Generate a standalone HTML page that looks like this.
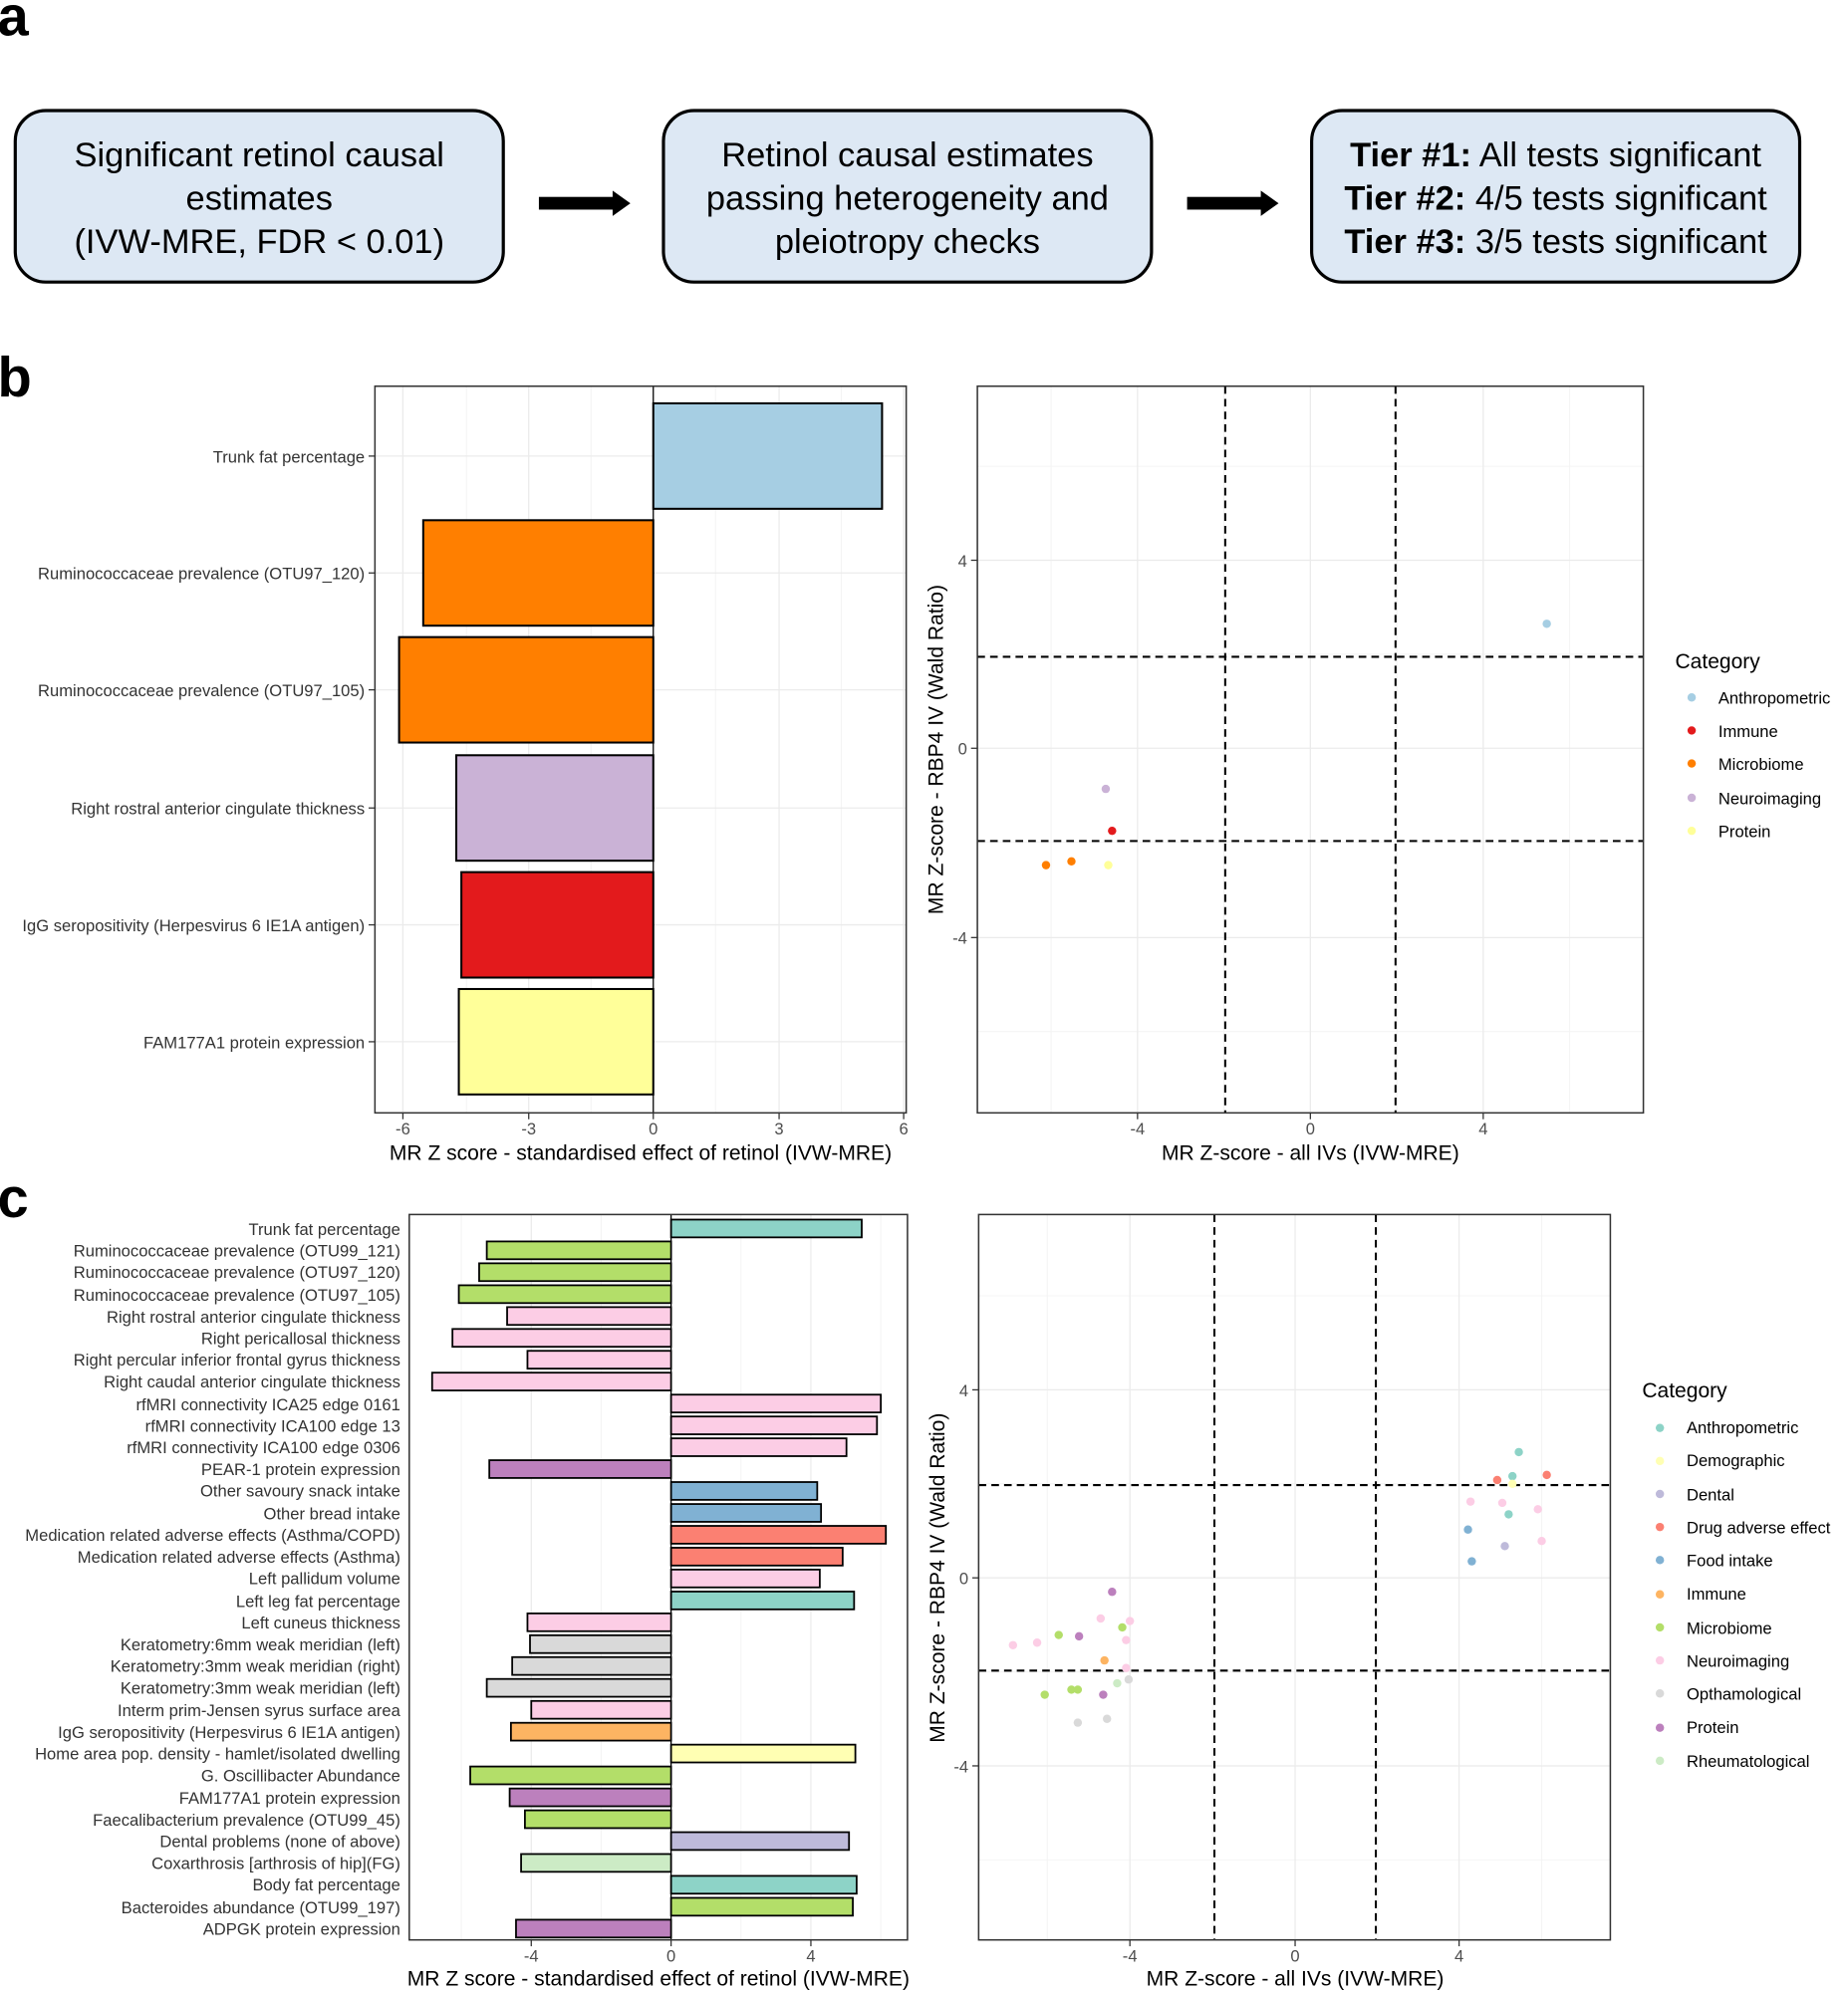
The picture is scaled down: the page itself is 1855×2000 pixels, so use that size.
<!DOCTYPE html>
<html><head><meta charset="utf-8"><style>
html,body{margin:0;padding:0;background:#fff;}
svg{display:block;}
text{font-family:"Liberation Sans",sans-serif;}
.tk{font-size:13px;fill:#4d4d4d;}
.lb{font-size:13px;fill:#333;}
.at{font-size:16.5px;fill:#000;}
.g{stroke:#ebebeb;stroke-width:1;}
.gm{stroke:#f4f4f4;stroke-width:0.8;}
.d{stroke:#000;stroke-width:1.6;stroke-dasharray:6,4;fill:none;}
.bx{fill:none;stroke:#333;stroke-width:1.2;}
.b{stroke:#000;stroke-width:1.6;}
.lg{font-size:13px;fill:#000;}
</style></head><body>
<svg width="1855" height="2000" viewBox="0 0 1454 1568" preserveAspectRatio="none" xmlns="http://www.w3.org/2000/svg">
<rect width="1454" height="1568" fill="#fff"/>
<text x="-2" y="28" font-size="44" font-weight="bold">a</text>
<text x="-2" y="312" font-size="44" font-weight="bold">b</text>
<text x="-2" y="958" font-size="44" font-weight="bold">c</text>

<g font-size="27" text-anchor="middle">
<rect x="12" y="87" width="384" height="135" rx="24" fill="#dde8f4" stroke="#000" stroke-width="2.5"/>
<text x="204" y="131">Significant retinol causal</text>
<text x="204" y="165">estimates</text>
<text x="204" y="199">(IVW-MRE, FDR &lt; 0.01)</text>
<rect x="522" y="87" width="384" height="135" rx="24" fill="#dde8f4" stroke="#000" stroke-width="2.5"/>
<text x="714" y="131">Retinol causal estimates</text>
<text x="714" y="165">passing heterogeneity and</text>
<text x="714" y="199">pleiotropy checks</text>
<rect x="1032" y="87" width="384" height="135" rx="24" fill="#dde8f4" stroke="#000" stroke-width="2.5"/>
<text x="1224" y="131"><tspan font-weight="bold">Tier #1:</tspan> All tests significant</text>
<text x="1224" y="165"><tspan font-weight="bold">Tier #2:</tspan> 4/5 tests significant</text>
<text x="1224" y="199"><tspan font-weight="bold">Tier #3:</tspan> 3/5 tests significant</text>
</g>
<rect x="424" y="155" width="60" height="10" fill="#000"/><polygon points="482,150 496,160 482,170" fill="#000"/>
<rect x="934" y="155" width="60" height="10" fill="#000"/><polygon points="992,150 1006,160 992,170" fill="#000"/>

<g>
<line class="gm" x1="367" y1="304" x2="367" y2="876"/><line class="gm" x1="465" y1="304" x2="465" y2="876"/>
<line class="gm" x1="563" y1="304" x2="563" y2="876"/><line class="gm" x1="662" y1="304" x2="662" y2="876"/>
<line class="g" x1="317" y1="304" x2="317" y2="876"/><line class="g" x1="416" y1="304" x2="416" y2="876"/>
<line class="g" x1="613" y1="304" x2="613" y2="876"/><line class="g" x1="711" y1="304" x2="711" y2="876"/>
<line class="g" x1="295" y1="359" x2="713" y2="359"/><line class="g" x1="295" y1="451" x2="713" y2="451"/>
<line class="g" x1="295" y1="543" x2="713" y2="543"/><line class="g" x1="295" y1="636" x2="713" y2="636"/>
<line class="g" x1="295" y1="728" x2="713" y2="728"/><line class="g" x1="295" y1="820" x2="713" y2="820"/>
<rect class="b" x="514" y="317.5" width="180" height="83" fill="#a6cee3"/>
<rect class="b" x="333" y="409.5" width="181" height="83" fill="#ff7f00"/>
<rect class="b" x="314" y="501.5" width="200" height="83" fill="#ff7f00"/>
<rect class="b" x="359" y="594.5" width="155" height="83" fill="#cab2d6"/>
<rect class="b" x="363" y="686.5" width="151" height="83" fill="#e31a1c"/>
<rect class="b" x="361" y="778.5" width="153" height="83" fill="#ffff99"/>
<line x1="514" y1="304" x2="514" y2="876" stroke="#000" stroke-width="1"/>
<rect class="bx" x="295" y="304" width="418" height="572"/>
<g class="lb" text-anchor="end">
<text x="287" y="364">Trunk fat percentage</text>
<text x="287" y="456">Ruminococcaceae prevalence (OTU97_120)</text>
<text x="287" y="548">Ruminococcaceae prevalence (OTU97_105)</text>
<text x="287" y="641">Right rostral anterior cingulate thickness</text>
<text x="287" y="733">IgG seropositivity (Herpesvirus 6 IE1A antigen)</text>
<text x="287" y="825">FAM177A1 protein expression</text>
</g>
<g stroke="#333"><line x1="290" y1="359" x2="295" y2="359"/><line x1="290" y1="451" x2="295" y2="451"/><line x1="290" y1="543" x2="295" y2="543"/><line x1="290" y1="636" x2="295" y2="636"/><line x1="290" y1="728" x2="295" y2="728"/><line x1="290" y1="820" x2="295" y2="820"/>
<line x1="317" y1="876" x2="317" y2="881"/><line x1="416" y1="876" x2="416" y2="881"/><line x1="514" y1="876" x2="514" y2="881"/><line x1="613" y1="876" x2="613" y2="881"/><line x1="711" y1="876" x2="711" y2="881"/></g>
<g class="tk" text-anchor="middle"><text x="317" y="893">-6</text><text x="416" y="893">-3</text><text x="514" y="893">0</text><text x="613" y="893">3</text><text x="711" y="893">6</text></g>
<text class="at" x="504" y="913" text-anchor="middle">MR Z score - standardised effect of retinol (IVW-MRE)</text>
</g>

<g>
<g class="gm"><line x1="827" y1="304" x2="827" y2="876"/><line x1="963" y1="304" x2="963" y2="876"/><line x1="1099" y1="304" x2="1099" y2="876"/><line x1="1235" y1="304" x2="1235" y2="876"/>
<line x1="769" y1="367" x2="1293" y2="367"/><line x1="769" y1="515" x2="1293" y2="515"/><line x1="769" y1="663" x2="1293" y2="663"/><line x1="769" y1="812" x2="1293" y2="812"/></g>
<g class="g"><line x1="895" y1="304" x2="895" y2="876"/><line x1="1031" y1="304" x2="1031" y2="876"/><line x1="1167" y1="304" x2="1167" y2="876"/>
<line x1="769" y1="441" x2="1293" y2="441"/><line x1="769" y1="589" x2="1293" y2="589"/><line x1="769" y1="738" x2="1293" y2="738"/></g>
<line class="d" x1="964" y1="304" x2="964" y2="876"/><line class="d" x1="1098" y1="304" x2="1098" y2="876"/>
<line class="d" x1="769" y1="517" x2="1293" y2="517"/><line class="d" x1="769" y1="662" x2="1293" y2="662"/>
<circle cx="1217" cy="491" r="3.3" fill="#a6cee3"/>
<circle cx="870" cy="621" r="3.3" fill="#cab2d6"/>
<circle cx="875" cy="654" r="3.3" fill="#e31a1c"/>
<circle cx="843" cy="678" r="3.3" fill="#ff7f00"/>
<circle cx="823" cy="681" r="3.3" fill="#ff7f00"/>
<circle cx="872" cy="681" r="3.3" fill="#ffff99"/>
<rect class="bx" x="769" y="304" width="524" height="572"/>
<g stroke="#333"><line x1="764" y1="441" x2="769" y2="441"/><line x1="764" y1="589" x2="769" y2="589"/><line x1="764" y1="738" x2="769" y2="738"/>
<line x1="895" y1="876" x2="895" y2="881"/><line x1="1031" y1="876" x2="1031" y2="881"/><line x1="1167" y1="876" x2="1167" y2="881"/></g>
<g class="tk" text-anchor="end"><text x="761" y="446">4</text><text x="761" y="594">0</text><text x="761" y="743">-4</text></g>
<g class="tk" text-anchor="middle"><text x="895" y="893">-4</text><text x="1031" y="893">0</text><text x="1167" y="893">4</text></g>
<text class="at" x="1031" y="913" text-anchor="middle">MR Z-score - all IVs (IVW-MRE)</text>
<text class="at" transform="translate(742,590) rotate(-90)" text-anchor="middle">MR Z-score - RBP4 IV (Wald Ratio)</text>
<text x="1318" y="526" font-size="16.5">Category</text>
<circle cx="1331" cy="549" r="3.3" fill="#a6cee3"/><text class="lg" x="1352" y="554">Anthropometric</text>
<circle cx="1331" cy="575" r="3.3" fill="#e31a1c"/><text class="lg" x="1352" y="580">Immune</text>
<circle cx="1331" cy="601" r="3.3" fill="#ff7f00"/><text class="lg" x="1352" y="606">Microbiome</text>
<circle cx="1331" cy="628" r="3.3" fill="#cab2d6"/><text class="lg" x="1352" y="633">Neuroimaging</text>
<circle cx="1331" cy="654" r="3.3" fill="#ffff99"/><text class="lg" x="1352" y="659">Protein</text>
</g>

<g>
<g class="gm"><line x1="363" y1="956" x2="363" y2="1527"/><line x1="473" y1="956" x2="473" y2="1527"/><line x1="583" y1="956" x2="583" y2="1527"/><line x1="693" y1="956" x2="693" y2="1527"/></g>
<g class="g"><line x1="418" y1="956" x2="418" y2="1527"/><line x1="638" y1="956" x2="638" y2="1527"/></g>
<g stroke="#000" stroke-width="1.4">
<rect x="528" y="960" width="150" height="14" fill="#8dd3c7"/>
<rect x="383" y="977.2" width="145" height="14" fill="#b3de69"/>
<rect x="377" y="994.4" width="151" height="14" fill="#b3de69"/>
<rect x="361" y="1011.7" width="167" height="14" fill="#b3de69"/>
<rect x="399" y="1028.9" width="129" height="14" fill="#fccde5"/>
<rect x="356" y="1046.1" width="172" height="14" fill="#fccde5"/>
<rect x="415" y="1063.3" width="113" height="14" fill="#fccde5"/>
<rect x="340" y="1080.5" width="188" height="14" fill="#fccde5"/>
<rect x="528" y="1097.8" width="165" height="14" fill="#fccde5"/>
<rect x="528" y="1115" width="162" height="14" fill="#fccde5"/>
<rect x="528" y="1132.2" width="138" height="14" fill="#fccde5"/>
<rect x="385" y="1149.4" width="143" height="14" fill="#bc80bd"/>
<rect x="528" y="1166.6" width="115" height="14" fill="#80b1d3"/>
<rect x="528" y="1183.9" width="118" height="14" fill="#80b1d3"/>
<rect x="528" y="1201.1" width="169" height="14" fill="#fb8072"/>
<rect x="528" y="1218.3" width="135" height="14" fill="#fb8072"/>
<rect x="528" y="1235.5" width="117" height="14" fill="#fccde5"/>
<rect x="528" y="1252.8" width="144" height="14" fill="#8dd3c7"/>
<rect x="415" y="1270" width="113" height="14" fill="#fccde5"/>
<rect x="417" y="1287.2" width="111" height="14" fill="#d9d9d9"/>
<rect x="403" y="1304.4" width="125" height="14" fill="#d9d9d9"/>
<rect x="383" y="1321.6" width="145" height="14" fill="#d9d9d9"/>
<rect x="418" y="1338.9" width="110" height="14" fill="#fccde5"/>
<rect x="402" y="1356.1" width="126" height="14" fill="#fdb462"/>
<rect x="528" y="1373.3" width="145" height="14" fill="#ffffb3"/>
<rect x="370" y="1390.5" width="158" height="14" fill="#b3de69"/>
<rect x="401" y="1407.8" width="127" height="14" fill="#bc80bd"/>
<rect x="413" y="1425" width="115" height="14" fill="#b3de69"/>
<rect x="528" y="1442.2" width="140" height="14" fill="#bebada"/>
<rect x="410" y="1459.4" width="118" height="14" fill="#ccebc5"/>
<rect x="528" y="1476.6" width="146" height="14" fill="#8dd3c7"/>
<rect x="528" y="1493.9" width="143" height="14" fill="#b3de69"/>
<rect x="406" y="1511.1" width="122" height="14" fill="#bc80bd"/>
</g>
<line x1="528" y1="956" x2="528" y2="1527" stroke="#000" stroke-width="1"/>
<rect class="bx" x="322" y="956" width="392" height="571"/>
<g class="lb" text-anchor="end" font-size="13.3">
<text x="315" y="972">Trunk fat percentage</text>
<text x="315" y="989">Ruminococcaceae prevalence (OTU99_121)</text>
<text x="315" y="1006">Ruminococcaceae prevalence (OTU97_120)</text>
<text x="315" y="1024">Ruminococcaceae prevalence (OTU97_105)</text>
<text x="315" y="1041">Right rostral anterior cingulate thickness</text>
<text x="315" y="1058">Right pericallosal thickness</text>
<text x="315" y="1075">Right percular inferior frontal gyrus thickness</text>
<text x="315" y="1092">Right caudal anterior cingulate thickness</text>
<text x="315" y="1110">rfMRI connectivity ICA25 edge 0161</text>
<text x="315" y="1127">rfMRI connectivity ICA100 edge 13</text>
<text x="315" y="1144">rfMRI connectivity ICA100 edge 0306</text>
<text x="315" y="1161">PEAR-1 protein expression</text>
<text x="315" y="1178">Other savoury snack intake</text>
<text x="315" y="1196">Other bread intake</text>
<text x="315" y="1213">Medication related adverse effects (Asthma/COPD)</text>
<text x="315" y="1230">Medication related adverse effects (Asthma)</text>
<text x="315" y="1247">Left pallidum volume</text>
<text x="315" y="1265">Left leg fat percentage</text>
<text x="315" y="1282">Left cuneus thickness</text>
<text x="315" y="1299">Keratometry:6mm weak meridian (left)</text>
<text x="315" y="1316">Keratometry:3mm weak meridian (right)</text>
<text x="315" y="1333">Keratometry:3mm weak meridian (left)</text>
<text x="315" y="1351">Interm prim-Jensen syrus surface area</text>
<text x="315" y="1368">IgG seropositivity (Herpesvirus 6 IE1A antigen)</text>
<text x="315" y="1385">Home area pop. density - hamlet/isolated dwelling</text>
<text x="315" y="1402">G. Oscillibacter Abundance</text>
<text x="315" y="1420">FAM177A1 protein expression</text>
<text x="315" y="1437">Faecalibacterium prevalence (OTU99_45)</text>
<text x="315" y="1454">Dental problems (none of above)</text>
<text x="315" y="1471">Coxarthrosis [arthrosis of hip](FG)</text>
<text x="315" y="1488">Body fat percentage</text>
<text x="315" y="1506">Bacteroides abundance (OTU99_197)</text>
<text x="315" y="1523">ADPGK protein expression</text>
</g>
<g stroke="#333"><line x1="418" y1="1527" x2="418" y2="1532"/><line x1="528" y1="1527" x2="528" y2="1532"/><line x1="638" y1="1527" x2="638" y2="1532"/></g>
<g class="tk" text-anchor="middle"><text x="418" y="1544">-4</text><text x="528" y="1544">0</text><text x="638" y="1544">4</text></g>
<text class="at" x="518" y="1563" text-anchor="middle">MR Z score - standardised effect of retinol (IVW-MRE)</text>
</g>

<g>
<g class="gm"><line x1="824" y1="956" x2="824" y2="1527"/><line x1="954" y1="956" x2="954" y2="1527"/><line x1="1084" y1="956" x2="1084" y2="1527"/><line x1="1213" y1="956" x2="1213" y2="1527"/>
<line x1="770" y1="1020" x2="1267" y2="1020"/><line x1="770" y1="1168" x2="1267" y2="1168"/><line x1="770" y1="1316" x2="1267" y2="1316"/><line x1="770" y1="1464" x2="1267" y2="1464"/></g>
<g class="g"><line x1="889" y1="956" x2="889" y2="1527"/><line x1="1019" y1="956" x2="1019" y2="1527"/><line x1="1148" y1="956" x2="1148" y2="1527"/>
<line x1="770" y1="1094" x2="1267" y2="1094"/><line x1="770" y1="1242" x2="1267" y2="1242"/><line x1="770" y1="1390" x2="1267" y2="1390"/></g>
<line class="d" x1="955.5" y1="956" x2="955.5" y2="1527"/><line class="d" x1="1082.5" y1="956" x2="1082.5" y2="1527"/>
<line class="d" x1="770" y1="1169" x2="1267" y2="1169"/><line class="d" x1="770" y1="1315" x2="1267" y2="1315"/>
<g>
<circle cx="1195" cy="1143" r="3.3" fill="#8dd3c7"/>
<circle cx="1190" cy="1162" r="3.3" fill="#8dd3c7"/>
<circle cx="1178" cy="1165" r="3.3" fill="#fb8072"/>
<circle cx="1217" cy="1161" r="3.3" fill="#fb8072"/>
<circle cx="1190" cy="1168" r="3.3" fill="#ffffb3"/>
<circle cx="1182" cy="1183" r="3.3" fill="#fccde5"/>
<circle cx="1157" cy="1182" r="3.3" fill="#fccde5"/>
<circle cx="1210" cy="1188" r="3.3" fill="#fccde5"/>
<circle cx="1187" cy="1192" r="3.3" fill="#8dd3c7"/>
<circle cx="1155" cy="1204" r="3.3" fill="#80b1d3"/>
<circle cx="1184" cy="1217" r="3.3" fill="#bebada"/>
<circle cx="1213" cy="1213" r="3.3" fill="#fccde5"/>
<circle cx="1158" cy="1229" r="3.3" fill="#80b1d3"/>
<circle cx="875" cy="1253" r="3.3" fill="#bc80bd"/>
<circle cx="866" cy="1274" r="3.3" fill="#fccde5"/>
<circle cx="889" cy="1276" r="3.3" fill="#fccde5"/>
<circle cx="883" cy="1281" r="3.3" fill="#b3de69"/>
<circle cx="833" cy="1287" r="3.3" fill="#b3de69"/>
<circle cx="849" cy="1288" r="3.3" fill="#bc80bd"/>
<circle cx="886" cy="1291" r="3.3" fill="#fccde5"/>
<circle cx="816" cy="1293" r="3.3" fill="#fccde5"/>
<circle cx="797" cy="1295" r="3.3" fill="#fccde5"/>
<circle cx="869" cy="1307" r="3.3" fill="#fdb462"/>
<circle cx="886" cy="1313" r="3.3" fill="#fccde5"/>
<circle cx="888" cy="1322" r="3.3" fill="#d9d9d9"/>
<circle cx="879" cy="1325" r="3.3" fill="#ccebc5"/>
<circle cx="843" cy="1330" r="3.3" fill="#b3de69"/>
<circle cx="848" cy="1330" r="3.3" fill="#b3de69"/>
<circle cx="822" cy="1334" r="3.3" fill="#b3de69"/>
<circle cx="868" cy="1334" r="3.3" fill="#bc80bd"/>
<circle cx="871" cy="1353" r="3.3" fill="#d9d9d9"/>
<circle cx="848" cy="1356" r="3.3" fill="#d9d9d9"/>
</g>
<rect class="bx" x="770" y="956" width="497" height="571"/>
<g stroke="#333"><line x1="765" y1="1094" x2="770" y2="1094"/><line x1="765" y1="1242" x2="770" y2="1242"/><line x1="765" y1="1390" x2="770" y2="1390"/>
<line x1="889" y1="1527" x2="889" y2="1532"/><line x1="1019" y1="1527" x2="1019" y2="1532"/><line x1="1148" y1="1527" x2="1148" y2="1532"/></g>
<g class="tk" text-anchor="end"><text x="762" y="1099">4</text><text x="762" y="1247">0</text><text x="762" y="1395">-4</text></g>
<g class="tk" text-anchor="middle"><text x="889" y="1544">-4</text><text x="1019" y="1544">0</text><text x="1148" y="1544">4</text></g>
<text class="at" x="1019" y="1563" text-anchor="middle">MR Z-score - all IVs (IVW-MRE)</text>
<text class="at" transform="translate(743,1242) rotate(-90)" text-anchor="middle">MR Z-score - RBP4 IV (Wald Ratio)</text>
<text x="1292" y="1100" font-size="16.5">Category</text>
<circle cx="1306" cy="1124" r="3.3" fill="#8dd3c7"/><text class="lg" x="1327" y="1128">Anthropometric</text>
<circle cx="1306" cy="1150" r="3.3" fill="#ffffb3"/><text class="lg" x="1327" y="1154">Demographic</text>
<circle cx="1306" cy="1176" r="3.3" fill="#bebada"/><text class="lg" x="1327" y="1181">Dental</text>
<circle cx="1306" cy="1202" r="3.3" fill="#fb8072"/><text class="lg" x="1327" y="1207">Drug adverse effect</text>
<circle cx="1306" cy="1228" r="3.3" fill="#80b1d3"/><text class="lg" x="1327" y="1233">Food intake</text>
<circle cx="1306" cy="1255" r="3.3" fill="#fdb462"/><text class="lg" x="1327" y="1259">Immune</text>
<circle cx="1306" cy="1281" r="3.3" fill="#b3de69"/><text class="lg" x="1327" y="1286">Microbiome</text>
<circle cx="1306" cy="1307" r="3.3" fill="#fccde5"/><text class="lg" x="1327" y="1312">Neuroimaging</text>
<circle cx="1306" cy="1333" r="3.3" fill="#d9d9d9"/><text class="lg" x="1327" y="1338">Opthamological</text>
<circle cx="1306" cy="1360" r="3.3" fill="#bc80bd"/><text class="lg" x="1327" y="1364">Protein</text>
<circle cx="1306" cy="1386" r="3.3" fill="#ccebc5"/><text class="lg" x="1327" y="1391">Rheumatological</text>
</g>
</svg>
</body></html>
